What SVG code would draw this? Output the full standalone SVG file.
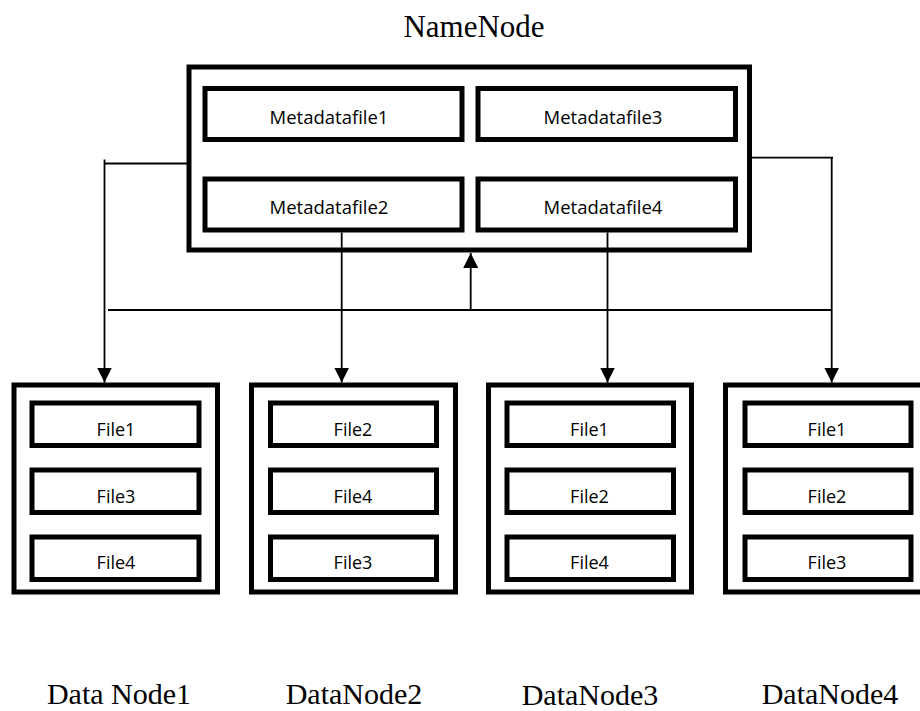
<svg xmlns="http://www.w3.org/2000/svg" width="920" height="711" viewBox="0 0 920 711">
<style>
.box{fill:#fff;stroke:#000;stroke-width:5}
.in{fill:#fff;stroke:#000;stroke-width:5}
.t{font-family:"Open Sans","Liberation Sans",sans-serif;font-size:18px;fill:#000;text-anchor:middle}
.m{font-size:18.5px}
.lbl{font-family:"Liberation Serif","Times New Roman",serif;font-size:30px;fill:#000;text-anchor:middle}
.c{fill:none;stroke:#000;stroke-width:1.8}
</style>
<defs>
<marker id="ah" markerUnits="userSpaceOnUse" markerWidth="15" markerHeight="15" refX="15" refY="7.5" orient="auto">
<path d="M0,0 L15,7.5 L0,15 z" fill="#000"/>
</marker>
</defs>
<rect width="920" height="711" fill="#fff"/>
<g id="namenode">
<text class="lbl" x="474" y="37" style="font-size:31px">NameNode</text>
<rect class="box" x="189" y="67" width="560.5" height="183"/>
<rect class="in" x="205" y="88.5" width="257" height="51"/>
<text class="t m" x="329" y="124">Metadatafile1</text>
<rect class="in" x="478" y="88.5" width="257.5" height="51"/>
<text class="t m" x="603" y="124">Metadatafile3</text>
<rect class="in" x="205" y="179" width="257" height="51"/>
<text class="t m" x="329" y="214">Metadatafile2</text>
<rect class="in" x="478" y="179" width="257.5" height="51"/>
<text class="t m" x="603" y="214">Metadatafile4</text>
</g>
<g id="datanode1">
<rect class="box" x="14" y="385" width="203.5" height="207"/>
<rect class="in" x="32" y="403" width="167" height="42.5"/>
<text class="t" x="116" y="436">File1</text>
<rect class="in" x="32" y="470" width="167" height="42.5"/>
<text class="t" x="116" y="502.7">File3</text>
<rect class="in" x="32" y="537" width="167" height="42.5"/>
<text class="t" x="116" y="569.3">File4</text>
<text class="lbl" x="119" y="704">Data Node1</text>
</g>
<g id="datanode2">
<rect class="box" x="251.5" y="385" width="204" height="207"/>
<rect class="in" x="270.5" y="403" width="166" height="42.5"/>
<text class="t" x="353" y="436">File2</text>
<rect class="in" x="270.5" y="470" width="166" height="42.5"/>
<text class="t" x="353" y="502.7">File4</text>
<rect class="in" x="270.5" y="537" width="166" height="42.5"/>
<text class="t" x="353" y="569.3">File3</text>
<text class="lbl" x="354" y="704">DataNode2</text>
</g>
<g id="datanode3">
<rect class="box" x="488.5" y="385" width="203" height="207"/>
<rect class="in" x="507" y="403" width="166.5" height="42.5"/>
<text class="t" x="589.5" y="436">File1</text>
<rect class="in" x="507" y="470" width="166.5" height="42.5"/>
<text class="t" x="589.5" y="502.7">File2</text>
<rect class="in" x="507" y="537" width="166.5" height="42.5"/>
<text class="t" x="589.5" y="569.3">File4</text>
<text class="lbl" x="590" y="705">DataNode3</text>
</g>
<g id="datanode4">
<rect class="box" x="725.5" y="385" width="204" height="207"/>
<rect class="in" x="745" y="403" width="166" height="42.5"/>
<text class="t" x="827" y="436">File1</text>
<rect class="in" x="745" y="470" width="166" height="42.5"/>
<text class="t" x="827" y="502.7">File2</text>
<rect class="in" x="745" y="537" width="166" height="42.5"/>
<text class="t" x="827" y="569.3">File3</text>
<text class="lbl" x="830" y="704">DataNode4</text>
</g>
<g id="connectors">
<path class="c" d="M187,163.5 H104.5"/>
<path class="c" d="M104.5,159.5 V382.5" marker-end="url(#ah)"/>
<path class="c" d="M341.7,232.5 V382.5" marker-end="url(#ah)"/>
<path class="c" d="M607.5,232.5 V382.5" marker-end="url(#ah)"/>
<path class="c" d="M752,157.7 H833"/>
<path class="c" d="M831.7,157 V382.5" marker-end="url(#ah)"/>
<path class="c" d="M108,310 H832"/>
<path class="c" d="M470.7,310 V253" marker-end="url(#ah)"/>
</g>
</svg>
